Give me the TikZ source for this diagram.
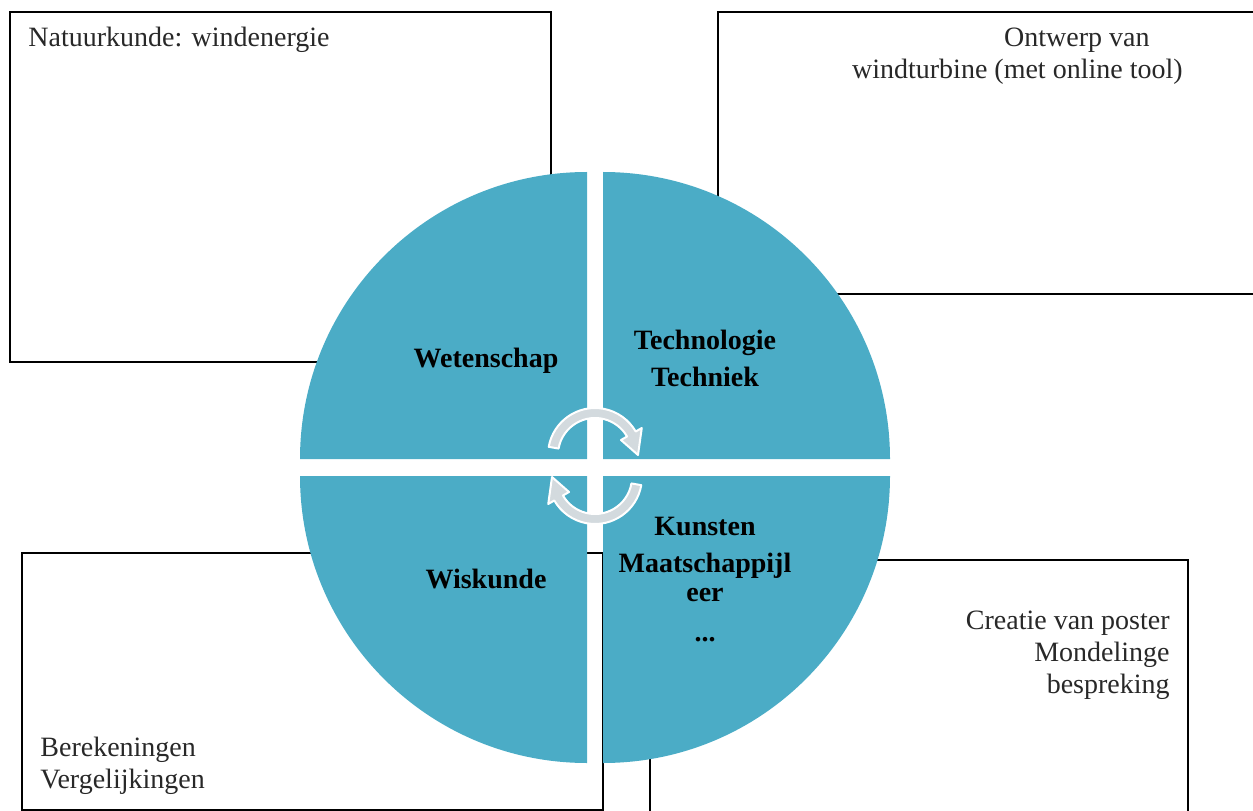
\documentclass[tikz,border=0pt]{standalone}
\usepackage{fontspec}
\setmainfont{Liberation Serif}
\definecolor{75_172_198}{RGB}{75, 172, 198}
\definecolor{211_218_222}{RGB}{211, 218, 222}
\definecolor{40_40_40}{RGB}{40, 40, 40}

\begin{document}
\begin{tikzpicture}[
        x=0.5pt, y=0.5pt,
        frame/.style={draw=black, line width=1pt},
        quarter/.style={fill=75_172_198},
        note/.style={inner sep=0pt, text=40_40_40,
            font=\fontsize{14}{16}\selectfont},
        topic/.style={inner sep=0pt, align=center,
            font=\fontsize{14}{16}\selectfont\bfseries},
        turn/.style={fill=211_218_222, draw=white, line width=1pt,
            line join=round}
    ]

    \useasboundingbox (0,0) rectangle (1253,810);

    % frames behind the disc
    \draw[frame] (10,798) rectangle (551,448);
    \draw[frame] (718,516) rectangle (1262,798);
    \draw[frame] (22,257) rectangle (603,0.5);
    \draw[frame] (650,-5) rectangle (1188,250);

    % four quarters of the disc
    \foreach \a/\cx/\cy in {0/603/351, 90/587/351, 180/587/334, 270/603/334}
        \fill[quarter] (\cx,\cy) -- ++(\a:287) arc (\a:\a+90:287) -- cycle;

    % turning arrows in the middle
    \foreach \r in {0,180} {
        \begin{scope}[shift={(595,355)}, rotate around={\r:(0,-11)}]
            \filldraw[turn] (170:47) arc (170:30:47) -- (30:54) -- (0:43)
                -- (30:30) -- (30:37) arc (30:170:37) -- cycle;
        \end{scope}
    }

    % subjects
    \node[topic] (wet) at (486,449) {Wetenschap};
    \node[topic] (tech) at (705,452) {Technologie\\[2.5pt]Techniek};
    \node[topic] (wis) at (486,231) {Wiskunde};
    \node[topic] (kun) at (705,230)
        {Kunsten\\[2.5pt]Maatschappijl\\[-1.5pt]eer\\[4pt]...};

    % activities
    \node[note, anchor=west] (nat) at (28,770) {Natuurkunde: windenergie};
    \node[note, anchor=east, align=right] (ont) at (1183,754)
        {Ontwerp van\hspace*{16.5pt}\\windturbine (met online tool)};
    \node[note, anchor=east, align=right] (cre) at (1170,155)
        {Creatie van poster\\Mondelinge\\bespreking};
    \node[note, anchor=west, align=left] (ber) at (40,44)
        {Berekeningen\\Vergelijkingen};
\end{tikzpicture}
\end{document}
